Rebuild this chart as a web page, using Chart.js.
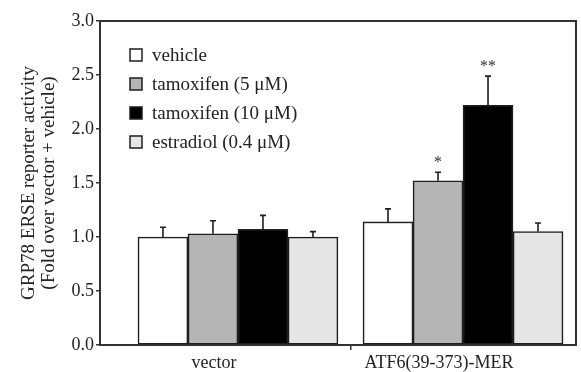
<!DOCTYPE html>
<html>
<head>
<meta charset="utf-8">
<script src="https://cdn.jsdelivr.net/npm/chart.js@4"></script>
<style>
  html, body { margin: 0; padding: 0; background: #fff; }
  #wrap { width: 581px; height: 372px; }
</style>
</head>
<body>
<div id="wrap"><canvas id="c"></canvas></div>
<script>
// groups on x (0 = vector, 1 = ATF6)
const groups = ['vector', 'ATF6(39-373)-MER'];
const groupPos = [0, 1];

const seriesNames = ['vehicle', 'tamoxifen (5 \u03BCM)', 'tamoxifen (10 \u03BCM)', 'estradiol (0.4 \u03BCM)'];

const vehicle      = [1.00, 1.14];
const vehicleErr   = [0.09, 0.12];
const tam5         = [1.03, 1.52];
const tam5Err      = [0.12, 0.08];
const tam10        = [1.07, 2.22];
const tam10Err     = [0.13, 0.27];
const estradiol    = [1.00, 1.05];
const estradiolErr = [0.05, 0.08];

const tam5Sig  = ['', '*'];
const tam10Sig = ['', '**'];

const yTicks = [0, 0.5, 1, 1.5, 2, 2.5, 3];

const SERIF = '"Liberation Serif", "DejaVu Serif", serif';
const INK = '#1e1e1e';

function pts(vals) {
  return vals.map((v, i) => ({ x: groupPos[i], y: v }));
}

function ds(label, vals, err, fill, sig) {
  return {
    label,
    data: pts(vals),
    err,
    sig: sig || [],
    backgroundColor: fill,
    borderColor: INK,
    borderWidth: 1.6,
    barThickness: 50,
    borderSkipped: false
  };
}

// error whiskers + significance stars
const errorBars = {
  id: 'errorBars',
  afterDatasetsDraw(chart) {
    const ctx = chart.ctx;
    const y = chart.scales.y;
    chart.data.datasets.forEach((d, di) => {
      const meta = chart.getDatasetMeta(di);
      meta.data.forEach((bar, i) => {
        const top = y.getPixelForValue(d.data[i].y + d.err[i]);
        ctx.save();
        ctx.strokeStyle = INK;
        ctx.lineWidth = 1.6;
        ctx.beginPath();
        ctx.moveTo(bar.x, bar.y);
        ctx.lineTo(bar.x, top);
        ctx.moveTo(bar.x - 3, top);
        ctx.lineTo(bar.x + 3, top);
        ctx.stroke();
        if (d.sig[i]) {
          ctx.fillStyle = '#333';
          ctx.font = '16px ' + SERIF;
          ctx.textAlign = 'center';
          ctx.textBaseline = 'alphabetic';
          ctx.fillText(d.sig[i], bar.x, top - 5);
        }
        ctx.restore();
      });
    });
  }
};

// frame around plot + legend inside the plot
const frameLegend = {
  id: 'frameLegend',
  afterDraw(chart) {
    const { ctx, chartArea: a } = chart;
    ctx.save();
    ctx.strokeStyle = '#333';
    ctx.lineWidth = 2;
    ctx.strokeRect(a.left, a.top, a.right - a.left, a.bottom - a.top);

    const x0 = a.left + 30, y0 = a.top + 34, step = 29, s = 12;
    ctx.font = '19px ' + SERIF;
    ctx.textBaseline = 'middle';
    ctx.textAlign = 'left';
    chart.data.datasets.forEach((d, i) => {
      const cy = y0 + i * step;
      ctx.fillStyle = d.backgroundColor;
      ctx.fillRect(x0, cy - s / 2, s, s);
      ctx.strokeStyle = INK;
      ctx.lineWidth = 1.5;
      ctx.strokeRect(x0, cy - s / 2, s, s);
      ctx.fillStyle = '#222';
      ctx.fillText(d.label, x0 + 22, cy + 1);
    });
    ctx.restore();
  }
};

new Chart(document.getElementById('c'), {
  type: 'bar',
  data: {
    datasets: [
      ds(seriesNames[0], vehicle, vehicleErr, '#ffffff'),
      ds(seriesNames[1], tam5, tam5Err, '#b5b5b5', tam5Sig),
      ds(seriesNames[2], tam10, tam10Err, '#000000', tam10Sig),
      ds(seriesNames[3], estradiol, estradiolErr, '#e6e6e6')
    ]
  },
  options: {
    responsive: true,
    maintainAspectRatio: false,
    animation: false,
    layout: { padding: { top: 21, right: 5, left: 0, bottom: 0 } },
    plugins: { legend: { display: false }, tooltip: { enabled: false } },
    scales: {
      x: {
        type: 'linear',
        offset: false,
        min: -0.613,
        max: 1.502,
        afterBuildTicks(s) { s.ticks = [0, 0.5, 1].map(v => ({ value: v })); },
        afterFit(s) { s.height = 27; },
        ticks: {
          autoSkip: false,
          maxRotation: 0,
          labelOffset: -24,
          padding: 2,
          color: '#222',
          font: { family: SERIF, size: 18 },
          callback: v => { const i = groupPos.indexOf(v); return i >= 0 ? groups[i] : ''; }
        },
        grid: {
          offset: false,
          drawOnChartArea: false,
          tickLength: 5,
          lineWidth: 1.5,
          color: c => (c.tick && c.tick.value === 0.5) ? '#333' : 'rgba(0,0,0,0)'
        },
        border: { color: '#333', width: 2 }
      },
      y: {
        min: 0,
        max: 3,
        afterBuildTicks(s) { s.ticks = yTicks.map(v => ({ value: v })); },
        afterFit(s) { s.width = 100; },
        ticks: {
          padding: 2,
          color: '#222',
          font: { family: SERIF, size: 18 },
          callback: v => Number(v).toFixed(1)
        },
        grid: { drawOnChartArea: false, tickLength: 4, color: '#333', lineWidth: 1.5 },
        border: { color: '#333', width: 2 },
        title: {
          display: true,
          text: ['GRP78 ERSE reporter activity', '(Fold over vector + vehicle)'],
          color: '#222',
          font: { family: SERIF, size: 19, lineHeight: 1.05 },
          padding: { top: 19, bottom: 0 }
        }
      }
    }
  },
  plugins: [errorBars, frameLegend]
});
</script>
</body>
</html>
